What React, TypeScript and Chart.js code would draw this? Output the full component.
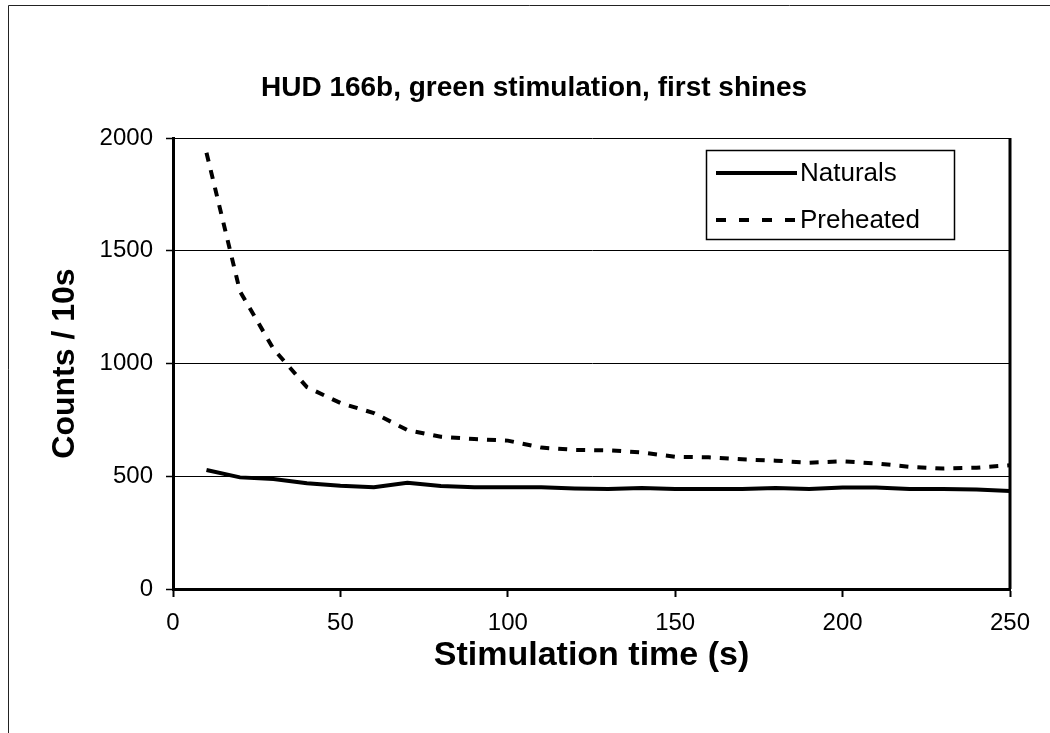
import React, { useEffect, useRef } from "react";
import { Chart, registerables } from "chart.js";

Chart.register(...registerables);

const titleText = "HUD 166b, green stimulation, first shines";
const xTitle = "Stimulation time (s)";
const yTitle = "Counts / 10s";

const times = [10, 20, 30, 40, 50, 60, 70, 80, 90, 100, 110, 120, 130, 140, 150, 160, 170, 180, 190, 200, 210, 220, 230, 240, 250];
const naturals = [528, 495, 488, 469, 458, 451, 471, 457, 451, 451, 451, 446, 443, 448, 443, 443, 443, 448, 443, 450, 450, 443, 443, 441, 435];
const preheated = [1935, 1320, 1065, 895, 825, 780, 705, 675, 665, 658, 627, 617, 615, 606, 586, 584, 575, 569, 560, 566, 557, 542, 534, 538, 549];

const xTicks = [0, 50, 100, 150, 200, 250];
const yTicks = [0, 500, 1000, 1500, 2000];

const FONT = "'Liberation Sans', Arial, sans-serif";

const framePlugin = {
  id: "frameAndLegend",
  afterDraw(chart: any) {
    const ctx = chart.ctx;
    const ca = chart.chartArea;
    ctx.save();
    // outer frame (left and top edges visible)
    ctx.strokeStyle = "#222";
    ctx.lineWidth = 1;
    ctx.beginPath();
    ctx.moveTo(8.5, 733);
    ctx.lineTo(8.5, 5.5);
    ctx.lineTo(1050, 5.5);
    ctx.stroke();
    // plot area right edge
    ctx.strokeStyle = "#000";
    ctx.lineWidth = 3;
    ctx.beginPath();
    ctx.moveTo(ca.right, ca.top);
    ctx.lineTo(ca.right, ca.bottom);
    ctx.stroke();

    // chart title
    ctx.fillStyle = "#000";
    ctx.font = `bold 28px ${FONT}`;
    ctx.textAlign = "center";
    ctx.textBaseline = "middle";
    ctx.fillText(titleText, 534, 88);

    // legend box
    const lx = ca.right - 304;
    const ly = ca.top + 12;
    const lw = 248;
    const lh = 89;
    ctx.fillStyle = "#fff";
    ctx.fillRect(lx, ly, lw, lh);
    ctx.strokeStyle = "#000";
    ctx.lineWidth = 1.5;
    ctx.strokeRect(lx + 0.5, ly + 0.5, lw, lh);
    const ds = chart.data.datasets;
    const rows = [ly + 23, ly + 70];
    ds.forEach((d: any, i: number) => {
      const y = rows[i];
      ctx.strokeStyle = d.borderColor;
      ctx.lineWidth = d.borderWidth;
      ctx.setLineDash(i === 1 ? [10, 13] : []);
      ctx.beginPath();
      ctx.moveTo(lx + 10, y);
      ctx.lineTo(lx + 91, y);
      ctx.stroke();
      ctx.setLineDash([]);
      ctx.fillStyle = "#000";
      ctx.font = `26px ${FONT}`;
      ctx.textBaseline = "middle";
      ctx.textAlign = "left";
      ctx.fillText(d.label, lx + 94, y + 1);
    });
    ctx.restore();
  },
};

export default function App() {
  const ref = useRef<HTMLCanvasElement | null>(null);
  useEffect(() => {
    if (!ref.current) return;
    const chart = new Chart(ref.current, {
      type: "line",
      data: {
        datasets: [
          {
            label: "Naturals",
            data: times.map((t, i) => ({ x: t, y: naturals[i] })),
            borderColor: "#000",
            borderWidth: 4,
            pointRadius: 0,
            tension: 0,
            fill: false,
          },
          {
            label: "Preheated",
            data: times.map((t, i) => ({ x: t, y: preheated[i] })),
            borderColor: "#000",
            borderWidth: 4,
            borderDash: [9, 9],
            pointRadius: 0,
            tension: 0,
            fill: false,
          },
        ],
      },
      options: {
        animation: false,
        responsive: true,
        maintainAspectRatio: false,
        layout: { padding: { left: 8, right: 40, top: 138, bottom: 0 } },
        plugins: {
          legend: { display: false },
          tooltip: { enabled: false },
          title: { display: false },
        },
        scales: {
          x: {
            type: "linear",
            min: 0,
            max: 250,
            afterBuildTicks: (s: any) => {
              s.ticks = xTicks.map((v) => ({ value: v }));
            },
            afterFit: (s: any) => {
              s.height = 144;
            },
            ticks: {
              color: "#000",
              font: { family: FONT, size: 24 },
              padding: 12,
              maxRotation: 0,
              callback: (v: any) => String(v),
            },
            grid: {
              drawOnChartArea: false,
              drawTicks: true,
              tickLength: 8,
              color: "#000",
              tickWidth: 2,
            },
            border: { display: true, color: "#000", width: 3 },
            title: {
              display: true,
              text: xTitle,
              color: "#000",
              font: { family: FONT, size: 34, weight: "bold" },
              padding: { top: 0, bottom: 57 },
            },
          },
          y: {
            type: "linear",
            min: 0,
            max: 2000,
            afterBuildTicks: (s: any) => {
              s.ticks = yTicks.map((v) => ({ value: v }));
            },
            afterFit: (s: any) => {
              s.width = 165;
            },
            ticks: {
              color: "#000",
              font: { family: FONT, size: 24 },
              padding: 13,
              callback: (v: any) => String(v),
            },
            grid: {
              drawOnChartArea: true,
              drawTicks: true,
              tickLength: 7,
              color: "#000",
              lineWidth: 1,
              tickWidth: 1.5,
            },
            border: { display: true, color: "#000", width: 3 },
            title: {
              display: true,
              text: yTitle,
              color: "#000",
              font: { family: FONT, size: 32, weight: "bold" },
              padding: { top: 38, bottom: 0 },
            },
          },
        },
      },
      plugins: [framePlugin],
    });
    return () => chart.destroy();
  }, []);
  return (
    <div style={{ position: "fixed", left: 0, top: 0, width: 1050, height: 733, background: "#fff" }}>
      <canvas ref={ref} />
    </div>
  );
}
